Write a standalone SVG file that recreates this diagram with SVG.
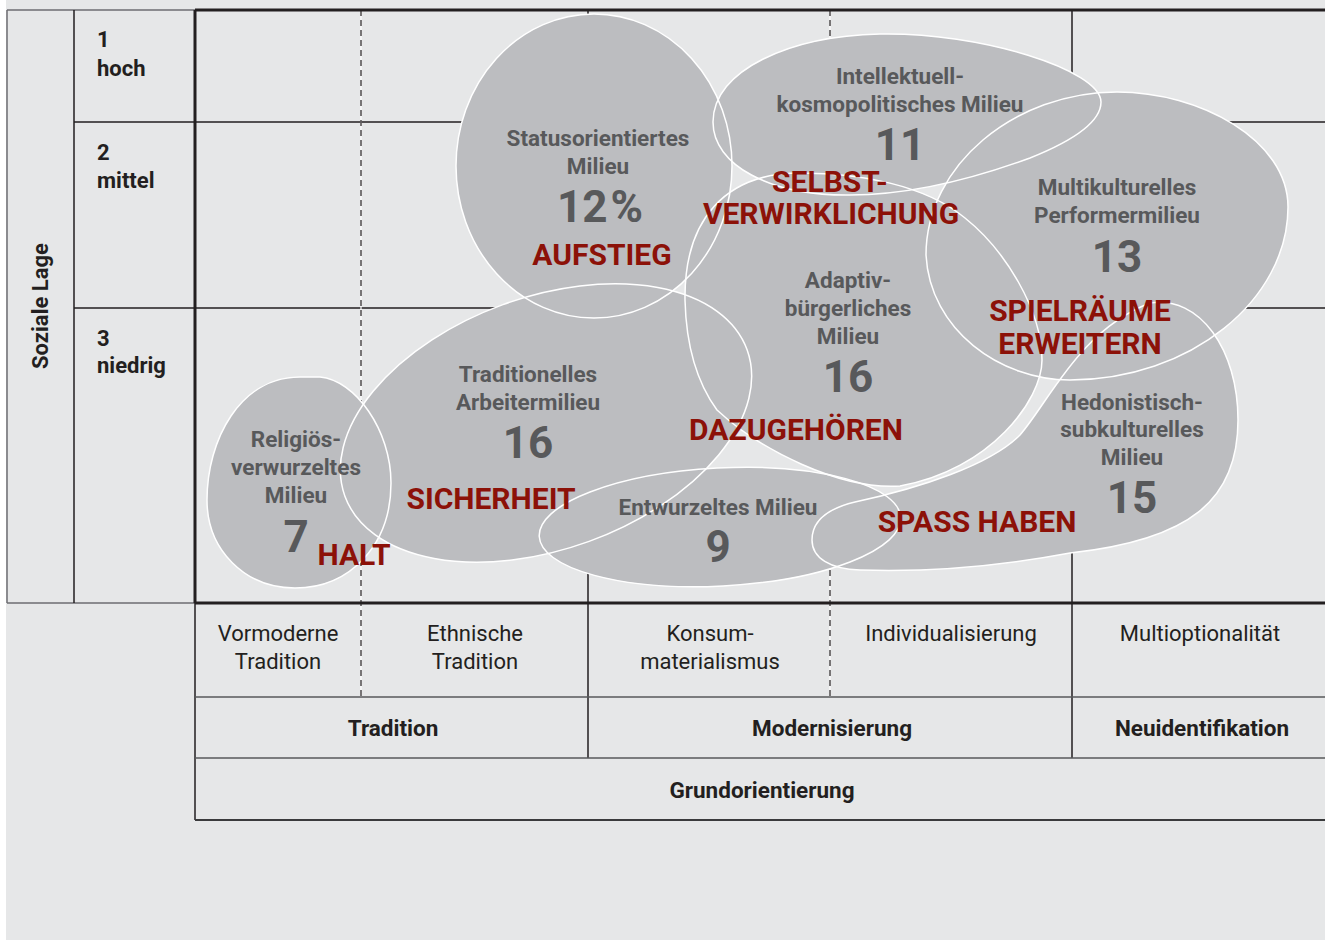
<svg xmlns="http://www.w3.org/2000/svg" width="1325" height="940" viewBox="0 0 1325 940">
<style>
.t{font-family:Roboto,"Liberation Sans",sans-serif;text-anchor:middle}
.g{fill:#58595b;font-weight:700;font-size:22.5px}
.n{fill:#58595b;font-weight:700;font-size:44px}
.r{fill:#8c1108;font-weight:700;font-size:30px}
.a{fill:#231f20;font-weight:700;font-size:22px;text-anchor:start}
.c{fill:#231f20;font-size:22px}
.cb{fill:#231f20;font-size:22.5px;font-weight:700}
.thin{stroke:#231f20;stroke-width:1.5;fill:none}
.thick{stroke:#231f20;stroke-width:3;fill:none}
.grey{stroke:#6d6e71;stroke-width:1.5;fill:none}
.mid{stroke:#58595b;stroke-width:1.5;fill:none}
.wb{stroke:#ffffff;stroke-width:1.2;fill:none}
.dash{stroke:#231f20;stroke-width:1.2;stroke-dasharray:6 4;fill:none}
.blob{fill:#bcbdc0}
.edge{fill:none;stroke:#ffffff;stroke-width:1.5}
</style>
<defs>
<path id="s7" d="M320,377 C355,380 391,430 391,483 C391,545 350,588 295,588 C245,588 207,550 207,500 C207,440 240,377 300,377 Z"/>
<ellipse id="s16t" cx="546" cy="423" rx="214" ry="126" transform="rotate(-20 546 423)"/>
<ellipse id="s12" cx="594" cy="166" rx="138" ry="152"/>
<path id="s11" d="M713,122 C713,70 790,36 880,34 C980,32 1101,70 1101,102 C1101,122 1075,140 1030,158 C970,180 910,195 850,195 C770,196 713,165 713,122 Z"/>
<path id="s13" d="M926,255 C926,165 1015,92 1117,92 C1200,92 1288,140 1288,207 C1288,300 1190,380 1070,380 C1000,380 930,330 926,255 Z"/>
<path id="s15" d="M812,540 C812,520 830,508 855,502 C920,488 990,465 1020,435 C1050,400 1080,330 1150,303 C1200,295 1238,350 1238,420 C1238,500 1190,540 1070,553 C990,568 920,572 860,570 C830,569 812,558 812,540 Z"/>
<ellipse id="s9" cx="720" cy="527" rx="181" ry="59" transform="rotate(-3 720 527)"/>
<path id="s16a" d="M685,300 C684,220 725,173 800,173 C860,173 925,185 965,218 C1005,250 1042,310 1042,360 C1042,400 990,470 900,486 C840,490 760,450 717,410 C695,380 686,340 685,300 Z"/>
</defs>
<rect x="0" y="0" width="1325" height="940" fill="#ffffff"/>
<rect x="6" y="0" width="1319" height="940" fill="#e6e7e8"/>
<g id="grid">
<path class="grey" d="M7,10 H195 M7,10 V603 M7,603 H195"/>
<path class="thin" d="M74,10 V603 M74,122 H1325 M74,308 H1325 M588,10 V758 M1072,10 V758 M195,603 V820"/>
<path class="wb" d="M361,10 V697 M830,10 V697"/>
<path class="dash" d="M361,10 V697 M830,10 V697"/>
<path class="mid" d="M195,697 H1325 M195,758 H1325"/>
<path class="thin" d="M195,820 H1325" style="stroke:#3a3a3c;stroke-width:2"/>
<path class="thick" d="M195,10 H1325 M195,10 V603 M195,603 H1325"/>
</g>
<g id="blob-fills" class="blob">
<use href="#s7"/><use href="#s16t"/><use href="#s12"/><use href="#s11"/><use href="#s13"/><use href="#s15"/><use href="#s9"/><use href="#s16a"/>
</g>
<g id="blob-outlines" class="edge">
<use href="#s7"/><use href="#s16t"/><use href="#s12"/><use href="#s11"/><use href="#s13"/><use href="#s15"/><use href="#s9"/><use href="#s16a"/>
</g>
<g id="axis-soziale-lage" class="t">
<text class="a" x="0" y="0" transform="translate(48,306) rotate(-90)" style="text-anchor:middle">Soziale Lage</text>
<text class="a" x="97" y="47">1</text><text class="a" x="97" y="76">hoch</text>
<text class="a" x="97" y="160">2</text><text class="a" x="97" y="188">mittel</text>
<text class="a" x="97" y="346">3</text><text class="a" x="97" y="373">niedrig</text>
</g>
<g id="milieu-statusorientiert" class="t">
<text class="g" x="598" y="146">Statusorientiertes</text>
<text class="g" x="598" y="174">Milieu</text>
<text class="n" x="600" y="222">12<tspan dx="3">%</tspan></text>
<text class="r" x="602" y="265">AUFSTIEG</text>
</g>
<g id="milieu-intellektuell" class="t">
<text class="g" x="900" y="84">Intellektuell-</text>
<text class="g" x="900" y="112">kosmopolitisches Milieu</text>
<text class="n" x="900" y="160">11</text>
<text class="r" x="830" y="192">SELBST-</text>
<text class="r" x="831" y="224">VERWIRKLICHUNG</text>
</g>
<g id="milieu-multikulturell" class="t">
<text class="g" x="1117" y="195">Multikulturelles</text>
<text class="g" x="1117" y="223">Performermilieu</text>
<text class="n" x="1117" y="272">13</text>
<text class="r" x="1080" y="321">SPIELRÄUME</text>
<text class="r" x="1080" y="354">ERWEITERN</text>
</g>
<g id="milieu-adaptiv" class="t">
<text class="g" x="848" y="288">Adaptiv-</text>
<text class="g" x="848" y="316">bürgerliches</text>
<text class="g" x="848" y="344">Milieu</text>
<text class="n" x="848" y="392">16</text>
<text class="r" x="796" y="440">DAZUGEHÖREN</text>
</g>
<g id="milieu-traditionell" class="t">
<text class="g" x="528" y="382">Traditionelles</text>
<text class="g" x="528" y="410">Arbeitermilieu</text>
<text class="n" x="528" y="458">16</text>
<text class="r" x="491" y="509">SICHERHEIT</text>
</g>
<g id="milieu-religioes" class="t">
<text class="g" x="296" y="447">Religiös-</text>
<text class="g" x="296" y="475">verwurzeltes</text>
<text class="g" x="296" y="503">Milieu</text>
<text class="n" x="296" y="552">7</text>
<text class="r" x="354" y="565">HALT</text>
</g>
<g id="milieu-entwurzelt" class="t">
<text class="g" x="718" y="515">Entwurzeltes Milieu</text>
<text class="n" x="718" y="562">9</text>
</g>
<g id="milieu-hedonistisch" class="t">
<text class="g" x="1132" y="410">Hedonistisch-</text>
<text class="g" x="1132" y="437">subkulturelles</text>
<text class="g" x="1132" y="465">Milieu</text>
<text class="n" x="1132" y="513">15</text>
<text class="r" x="977" y="532">SPASS HABEN</text>
</g>
<g id="axis-grundorientierung" class="t">
<text class="c" x="278" y="641">Vormoderne</text><text class="c" x="278" y="669">Tradition</text>
<text class="c" x="475" y="641">Ethnische</text><text class="c" x="475" y="669">Tradition</text>
<text class="c" x="710" y="641">Konsum-</text><text class="c" x="710" y="669">materialismus</text>
<text class="c" x="951" y="641">Individualisierung</text>
<text class="c" x="1200" y="641">Multioptionalität</text>
<text class="cb" x="393" y="736">Tradition</text>
<text class="cb" x="832" y="736">Modernisierung</text>
<text class="cb" x="1202" y="736">Neuidentifikation</text>
<text class="cb" x="762" y="798">Grundorientierung</text>
</g>
</svg>
